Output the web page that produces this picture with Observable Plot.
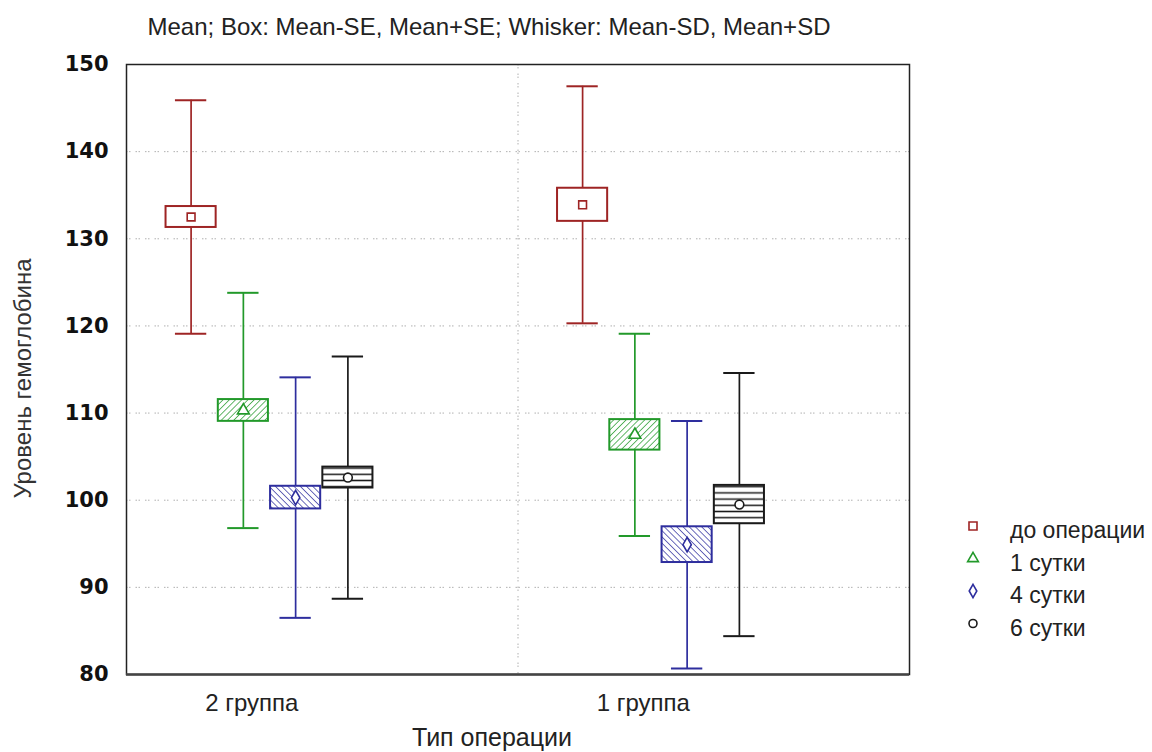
<!DOCTYPE html>
<html><head><meta charset="utf-8">
<script src="https://cdn.jsdelivr.net/npm/d3@7"></script>
<script src="https://cdn.jsdelivr.net/npm/@observablehq/plot@0.6"></script>
<style>
body{margin:0;background:#fff;}
#wrap{position:relative;width:1152px;height:752px;overflow:hidden;font-family:"Liberation Sans",Arial,sans-serif;}
#wrap svg{position:absolute;left:0;top:0;}
</style></head><body><div id="wrap"></div>
<script>
const groups = ["2 группа", "1 группа"];
const series = ["до операции", "1 сутки", "4 сутки", "6 сутки"];
const means = [[132.5, 133.9], [110.3, 107.5], [100.3, 94.9], [102.6, 99.5]];
const se = [[1.2, 1.9], [1.25, 1.75], [1.3, 2.05], [1.2, 2.2]];
const sd = [[13.4, 13.6], [13.5, 11.6], [13.8, 14.2], [13.9, 15.1]];
const yTicks = [80, 90, 100, 110, 120, 130, 140, 150];
const titleText = "Mean; Box: Mean-SE, Mean+SE; Whisker: Mean-SD, Mean+SD";
const xTitle = "Тип операции";
const yTitle = "Уровень гемоглобина";

const colors = ["#9e2424", "#22992a", "#2e2e9e", "#1a1a1a"];
const symbols = ["square", "triangle", "diamond", "circle"];
const fills = ["#ffffff", "url(#hatchGreen)", "url(#hatchBlue)", "url(#hatchBlack)"];

// layout constants (in x-scale units, one unit per group)
const slotStart = 0.165, slotStep = 0.1335, boxHalf = 0.064, capHalf = 0.04, labelOffset = 0.32;

const rows = [];
series.forEach((s, si) => groups.forEach((g, gi) => {
  const m = means[si][gi];
  rows.push({series: s, si, group: g, gi,
    pos: gi + slotStart + slotStep * si,
    mean: m, lo: m - se[si][gi], hi: m + se[si][gi],
    min: m - sd[si][gi], max: m + sd[si][gi]});
}));

const col = d => colors[d.si];

const plot = Plot.plot({
  width: 1152, height: 752,
  marginTop: 64, marginBottom: 78, marginLeft: 126, marginRight: 243,
  style: {fontFamily: '"Liberation Sans", Arial, sans-serif', color: "#222", background: "#fff"},
  x: {type: "linear", domain: [0, groups.length]},
  y: {domain: [yTicks[0], yTicks[yTicks.length - 1]]},
  color: {type: "identity"},
  marks: [
    Plot.ruleY(yTicks.slice(1, -1), {stroke: "#b0b0b0", strokeWidth: 1, strokeDasharray: "1.5,1.5,1.5,5"}),
    Plot.ruleX(d3.range(1, groups.length), {stroke: "#b0b0b0", strokeWidth: 1, strokeDasharray: "1.5,1.5,1.5,5"}),
    Plot.ruleX(rows, {x: "pos", y1: "min", y2: "max", stroke: col, strokeWidth: 1.7}),
    Plot.ruleY(rows, {y: "max", x1: d => d.pos - capHalf, x2: d => d.pos + capHalf, stroke: col, strokeWidth: 2}),
    Plot.ruleY(rows, {y: "min", x1: d => d.pos - capHalf, x2: d => d.pos + capHalf, stroke: col, strokeWidth: 2}),
    Plot.rect(rows, {x1: d => d.pos - boxHalf, x2: d => d.pos + boxHalf, y1: "lo", y2: "hi",
      fill: d => fills[d.si], stroke: col, strokeWidth: 2}),
    Plot.dot(rows, {x: "pos", y: "mean", symbol: d => symbols[d.si], r: 4.4, fill: "#ffffff", stroke: col, strokeWidth: 1.6}),
    Plot.frame({stroke: "#222", strokeWidth: 1.5}),
    Plot.ruleY([yTicks[0]], {stroke: "#444", strokeWidth: 2.5}),
    Plot.axisY({ticks: yTicks, tickSize: 0, tickPadding: 18, fontSize: 21, fontWeight: "bold",
      fontFamily: '"DejaVu Sans", sans-serif', label: null, fill: "#111"}),
    Plot.axisX({ticks: groups.map((g, i) => i + labelOffset), tickFormat: d => groups[Math.round(d - labelOffset)],
      tickSize: 0, tickPadding: 19, fontSize: 24, label: null, fill: "#222"}),
    Plot.text([titleText], {frameAnchor: "top", dy: -30, dx: -29, lineAnchor: "bottom", fontSize: 24, fill: "#222"}),
    Plot.text([xTitle], {frameAnchor: "bottom", dy: 71, dx: -26, lineAnchor: "bottom", fontSize: 25, fill: "#222"}),
    Plot.text([yTitle], {frameAnchor: "left", dx: -103, dy: 9, rotate: -90, textAnchor: "middle", lineAnchor: "middle", fontSize: 24, fill: "#333"})
  ]
});

const svg = d3.select(plot);
const defs = svg.insert("defs", ":first-child");
function hatch(id, color, rot, size, sw) {
  const p = defs.append("pattern").attr("id", id).attr("patternUnits", "userSpaceOnUse")
    .attr("width", size).attr("height", size);
  if (rot) p.attr("patternTransform", `rotate(${rot})`);
  p.append("rect").attr("width", size).attr("height", size).attr("fill", "#fff");
  if (rot) p.append("line").attr("x1", 0).attr("y1", 0).attr("x2", 0).attr("y2", size).attr("stroke", color).attr("stroke-width", sw);
  else p.append("line").attr("x1", 0).attr("y1", size / 2).attr("x2", size).attr("y2", size / 2).attr("stroke", color).attr("stroke-width", sw);
}
hatch("hatchGreen", colors[1], 45, 4.4, 1.4);
hatch("hatchBlue", colors[2], -45, 4.4, 1.4);
hatch("hatchBlack", colors[3], 0, 6.2, 1.5);

// legend
const legendSymbols = [d3.symbolSquare, d3.symbolTriangle, d3.symbolDiamond, d3.symbolCircle];
const lg = svg.append("g").attr("font-family", '"Liberation Sans", Arial, sans-serif').attr("text-anchor", "start");
series.forEach((s, i) => {
  const base = 538 + i * 32.5;
  const g = lg.append("g");
  g.append("path").attr("transform", `translate(973,${base - 12})`)
    .attr("d", d3.symbol(legendSymbols[i], i === 0 ? 64 : 50)())
    .attr("fill", "#fff").attr("stroke", colors[i]).attr("stroke-width", 1.6);
  g.append("text").attr("x", 1010).attr("y", base).attr("font-size", 23).attr("fill", "#222")
    .attr("text-anchor", "start").text(s);
});

document.getElementById("wrap").appendChild(plot);
</script>
</body></html>
